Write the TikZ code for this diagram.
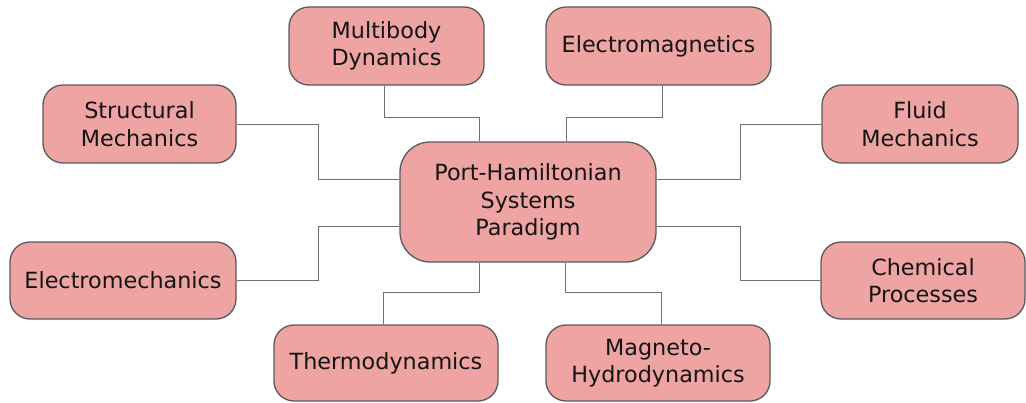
\documentclass[tikz,border=0pt]{standalone}
\usepackage{fontspec}
\setmainfont{DejaVu Sans}
\definecolor{boxfill}{RGB}{239,164,164}
\definecolor{boxdraw}{RGB}{90,90,90}
\definecolor{linecol}{RGB}{112,112,112}
\definecolor{txt}{RGB}{20,20,20}
\tikzset{
  topic/.style={draw=boxdraw, line width=1.3pt, fill=boxfill, rounded corners=20pt,
    align=center, text=txt, inner sep=0pt, font=\fontsize{22.3}{27.5}\selectfont},
  hub/.style={topic, rounded corners=30pt},
  link/.style={draw=linecol, line width=1pt}
}
\begin{document}
\begin{tikzpicture}[x=1pt,y=-1pt]
\useasboundingbox (0,0) rectangle (1026,402);
\node[hub, minimum width=256pt, minimum height=120pt] (pc) at (528,202) {Port-Hamiltonian\\Systems\\Paradigm};
\node[topic, minimum width=195pt, minimum height=78pt] (mb) at (386.5,46) {Multibody\\Dynamics};
\node[topic, minimum width=225pt, minimum height=78pt] (em) at (658.5,46) {Electromagnetics};
\node[topic, minimum width=193pt, minimum height=78pt] (sm) at (139.5,124) {Structural\\Mechanics};
\node[topic, minimum width=196pt, minimum height=78pt] (fm) at (920,124) {Fluid\\Mechanics};
\node[topic, minimum width=226pt, minimum height=77pt] (ec) at (123,280.5) {Electromechanics};
\node[topic, minimum width=204pt, minimum height=77pt] (cp) at (923,280.5) {Chemical\\Processes};
\node[topic, minimum width=224pt, minimum height=76pt] (th) at (386,363) {Thermodynamics};
\node[topic, minimum width=224pt, minimum height=76pt] (mh) at (658,363) {Magneto-\\Hydrodynamics};
\draw[link] ([xshift=-2.5pt]mb.south) -- ++(0,32) -| ([xshift=-49pt]pc.north);
\draw[link] ([xshift=3.5pt]em.south) -- ++(0,32) -| ([xshift=38pt]pc.north);
\draw[link] (sm.east) -- ++(82,0) |- ([yshift=23pt]pc.west);
\draw[link] (fm.west) -- ++(-81,0) |- ([yshift=23pt]pc.east);
\draw[link] (ec.east) -- ++(82,0) |- ([yshift=-24pt]pc.west);
\draw[link] (cp.west) -- ++(-80,0) |- ([yshift=-24pt]pc.east);
\draw[link] ([xshift=-3pt]th.north) -- ++(0,-32) -| ([xshift=-49pt]pc.south);
\draw[link] ([xshift=3pt]mh.north) -- ++(0,-32) -| ([xshift=37pt]pc.south);
\end{tikzpicture}
\end{document}
